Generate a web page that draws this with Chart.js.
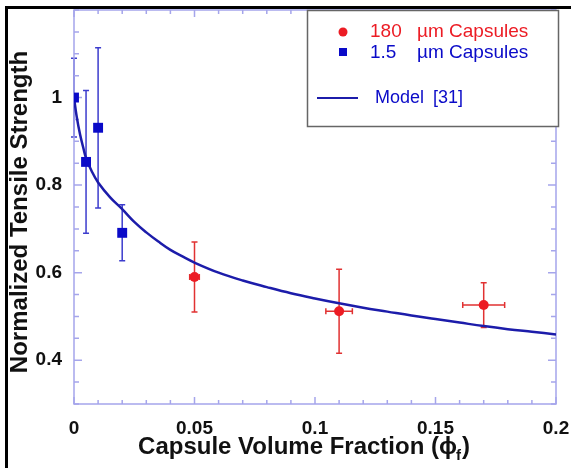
<!DOCTYPE html>
<html>
<head>
<meta charset="utf-8">
<script src="https://cdn.jsdelivr.net/npm/chart.js@4"></script>
<style>
  body { margin: 0; background: #fff; }
  #wrap { position: relative; width: 571px; height: 468px; }
  #frame { position: absolute; left: 5px; top: 6px; right: 0; bottom: 0;
           border-top: 3px solid #000; border-left: 3px solid #000; pointer-events: none; }
</style>
</head>
<body>
<div id="wrap">
  <canvas id="chart" width="571" height="468"></canvas>
  <div id="frame"></div>
</div>
<script>
// 180 um capsules (red circles)
const phi180 = [0.05, 0.11, 0.17];
const strength180 = [0.59, 0.512, 0.526];
const yErr180 = [0.08, 0.096, 0.051];
const xErr180 = [0.002, 0.0055, 0.0087];

// 1.5 um capsules (blue squares)
const phi15 = [0, 0.005, 0.01, 0.02];
const strength15 = [1.0, 0.853, 0.931, 0.691];
const yErr15 = [0.09, 0.163, 0.183, 0.064];

// Model [31] curve
const modelPhi = [0, 0.0011, 0.0025, 0.004, 0.005, 0.0075, 0.01, 0.015, 0.02, 0.025, 0.03, 0.035, 0.04,
  0.045, 0.05, 0.06, 0.07, 0.08, 0.09, 0.1, 0.11, 0.12, 0.13, 0.14, 0.15, 0.16, 0.17, 0.18, 0.19, 0.2];
const modelStrength = [1.0, 0.957, 0.916, 0.882, 0.862, 0.83, 0.806, 0.772, 0.745, 0.716, 0.692, 0.671, 0.652,
  0.637, 0.623, 0.6, 0.582, 0.567, 0.553, 0.541, 0.53, 0.52, 0.511, 0.502, 0.494, 0.486, 0.478, 0.471, 0.465, 0.459];

const xLabels = [0, 0.05, 0.1, 0.15, 0.2];
const yLabels = [0.4, 0.6, 0.8, 1];

const RED = "rgb(236, 28, 36)";
const BLUE = "rgb(10, 10, 200)";
const LINE_BLUE = "rgb(28, 28, 170)";
const AXIS = "rgb(165, 165, 235)";
const FONT = "'Liberation Sans', Arial, sans-serif";

function isLabel(v, list) {
  return list.some(l => Math.abs(l - v) < 1e-6);
}

const errorBars = {
  id: "errorBars",
  beforeDatasetsDraw(chart) {
    const ctx = chart.ctx;
    const xs = chart.scales.x, ys = chart.scales.y;
    const cap = 3;
    ctx.save();
    ctx.lineWidth = 1.5;
    // blue vertical error bars
    ctx.strokeStyle = "rgb(60, 60, 205)";
    phi15.forEach((p, i) => {
      const x = xs.getPixelForValue(p);
      const y1 = ys.getPixelForValue(strength15[i] + yErr15[i]);
      const y2 = ys.getPixelForValue(strength15[i] - yErr15[i]);
      ctx.beginPath();
      ctx.moveTo(x, y1); ctx.lineTo(x, y2);
      ctx.moveTo(x - cap, y1); ctx.lineTo(x + cap, y1);
      ctx.moveTo(x - cap, y2); ctx.lineTo(x + cap, y2);
      ctx.stroke();
    });
    // red error bars, both directions
    ctx.strokeStyle = "rgb(225, 50, 50)";
    phi180.forEach((p, i) => {
      const x = xs.getPixelForValue(p);
      const y = ys.getPixelForValue(strength180[i]);
      const y1 = ys.getPixelForValue(strength180[i] + yErr180[i]);
      const y2 = ys.getPixelForValue(strength180[i] - yErr180[i]);
      const x1 = xs.getPixelForValue(p - xErr180[i]);
      const x2 = xs.getPixelForValue(p + xErr180[i]);
      ctx.beginPath();
      ctx.moveTo(x, y1); ctx.lineTo(x, y2);
      ctx.moveTo(x - cap, y1); ctx.lineTo(x + cap, y1);
      ctx.moveTo(x - cap, y2); ctx.lineTo(x + cap, y2);
      ctx.moveTo(x1, y); ctx.lineTo(x2, y);
      ctx.moveTo(x1, y - cap); ctx.lineTo(x1, y + cap);
      ctx.moveTo(x2, y - cap); ctx.lineTo(x2, y + cap);
      ctx.stroke();
    });
    ctx.restore();
  }
};

const frameAndTicks = {
  id: "frameAndTicks",
  beforeDatasetsDraw(chart) {
    const ctx = chart.ctx;
    const a = chart.chartArea;
    ctx.save();
    ctx.strokeStyle = AXIS;
    ctx.lineWidth = 1.5;
    ctx.strokeRect(a.left, a.top, a.right - a.left, a.bottom - a.top);
    ctx.beginPath();
    chart.scales.x.ticks.forEach(t => {
      const x = chart.scales.x.getPixelForValue(t.value);
      const len = isLabel(t.value, xLabels) ? 7 : 4;
      ctx.moveTo(x, a.bottom); ctx.lineTo(x, a.bottom - len);
      ctx.moveTo(x, a.top); ctx.lineTo(x, a.top + len);
    });
    chart.scales.y.ticks.forEach(t => {
      const y = chart.scales.y.getPixelForValue(t.value);
      const len = isLabel(t.value, yLabels) ? 8 : 5;
      ctx.moveTo(a.left, y); ctx.lineTo(a.left + len, y);
      ctx.moveTo(a.right, y); ctx.lineTo(a.right - len, y);
    });
    ctx.stroke();
    ctx.restore();
  },
  afterDraw(chart) {
    const ctx = chart.ctx;
    ctx.save();
    ctx.fillStyle = "#111";
    // y title
    ctx.font = "bold 24px " + FONT;
    ctx.textAlign = "center";
    ctx.textBaseline = "middle";
    ctx.save();
    ctx.translate(20, 212);
    ctx.rotate(-Math.PI / 2);
    ctx.fillText("Normalized Tensile Strength", 0, 0);
    ctx.restore();
    // x title with subscript
    const main = "Capsule Volume Fraction (\u03D5";
    ctx.textAlign = "left";
    const wMain = ctx.measureText(main).width;
    ctx.font = "bold 15px " + FONT;
    const wSub = ctx.measureText("f").width;
    ctx.font = "bold 24px " + FONT;
    const wEnd = ctx.measureText(")").width;
    let x0 = 304 - (wMain + wSub + wEnd) / 2;
    ctx.fillText(main, x0, 447);
    ctx.font = "bold 15px " + FONT;
    ctx.fillText("f", x0 + wMain - 1, 456);
    ctx.font = "bold 24px " + FONT;
    ctx.fillText(")", x0 + wMain + wSub, 447);

    // legend box
    ctx.fillStyle = "#fff";
    ctx.fillRect(307, 10, 251, 116);
    ctx.strokeStyle = "#666";
    ctx.lineWidth = 1.5;
    ctx.strokeRect(307.5, 10.5, 251, 116);
    ctx.font = "19px " + FONT;
    ctx.textBaseline = "middle";
    ctx.fillStyle = RED;
    ctx.beginPath(); ctx.arc(343, 32, 4.5, 0, Math.PI * 2); ctx.fill();
    ctx.fillText("180", 370, 32);
    ctx.fillText("\u00B5m Capsules", 417, 32);
    ctx.fillStyle = BLUE;
    ctx.fillRect(339, 48, 8, 8);
    ctx.fillText("1.5", 370, 53);
    ctx.fillText("\u00B5m Capsules", 417, 53);
    ctx.strokeStyle = LINE_BLUE;
    ctx.lineWidth = 2;
    ctx.beginPath(); ctx.moveTo(317, 98); ctx.lineTo(358, 98); ctx.stroke();
    ctx.font = "18px " + FONT;
    ctx.fillText("Model", 375, 98);
    ctx.fillText("[31]", 433, 98);
    ctx.restore();
  }
};

const ctx = document.getElementById("chart").getContext("2d");

new Chart(ctx, {
  type: "scatter",
  data: {
    datasets: [
      {
        label: "Model [31]",
        data: modelPhi.map((p, i) => ({ x: p, y: modelStrength[i] })),
        showLine: true,
        borderColor: LINE_BLUE,
        borderWidth: 2.5,
        pointRadius: 0,
        tension: 0.4,
        order: 3,
      },
      {
        label: "1.5 um Capsules",
        data: phi15.map((p, i) => ({ x: p, y: strength15[i] })),
        pointStyle: "rect",
        pointRadius: 7,
        backgroundColor: BLUE,
        borderColor: BLUE,
        borderWidth: 0,
        order: 1,
      },
      {
        label: "180 um Capsules",
        data: phi180.map((p, i) => ({ x: p, y: strength180[i] })),
        pointStyle: "circle",
        pointRadius: 5,
        backgroundColor: RED,
        borderColor: RED,
        borderWidth: 0,
        order: 2,
      },
    ],
  },
  options: {
    responsive: false,
    animation: false,
    layout: { padding: { top: 10, right: 15, left: 0, bottom: 0 } },
    plugins: { legend: { display: false }, tooltip: { enabled: false } },
    scales: {
      x: {
        type: "linear",
        min: 0,
        max: 0.2,
        afterFit: s => { s.height = 64; s.paddingLeft = 0; s.paddingRight = 0; },
        grid: { display: false, drawTicks: false },
        border: { display: false },
        ticks: {
          stepSize: 0.01,
          autoSkip: false,
          maxRotation: 0,
          padding: 13,
          color: "#111",
          font: { family: FONT, size: 19, weight: "bold" },
          callback: v => isLabel(v, xLabels) ? String(Math.round(v * 100) / 100) : "",
        },
      },
      y: {
        type: "linear",
        min: 0.3,
        max: 1.2,
        afterFit: s => { s.width = 74; s.paddingTop = 0; s.paddingBottom = 0; },
        grid: { display: false, drawTicks: false },
        border: { display: false },
        ticks: {
          stepSize: 0.05,
          autoSkip: false,
          padding: 12,
          color: "#111",
          font: { family: FONT, size: 19, weight: "bold" },
          callback: v => isLabel(v, yLabels) ? String(Math.round(v * 10) / 10) : "",
        },
      },
    },
  },
  plugins: [errorBars, frameAndTicks],
});
</script>
</body>
</html>
